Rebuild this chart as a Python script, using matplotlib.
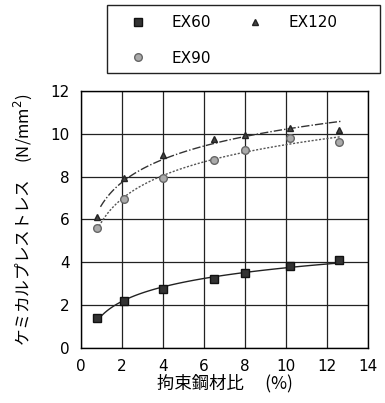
import numpy as np
import matplotlib
matplotlib.use("Agg")
import matplotlib.pyplot as plt
from matplotlib.patches import Rectangle

plt.rcParams['font.family'] = ['DejaVu Sans', 'Noto Sans CJK JP']

x = [0.8, 2.1, 4.0, 6.5, 8.0, 10.2, 12.6]
ex60 = [1.38, 2.2, 2.75, 3.2, 3.48, 3.82, 4.12]
ex120 = [6.1, 7.95, 9.0, 9.75, 9.95, 10.25, 10.2]
ex90 = [5.6, 6.95, 7.95, 8.8, 9.25, 9.8, 9.62]
xticks = [0, 2, 4, 6, 8, 10, 12, 14]
yticks = [0, 2, 4, 6, 8, 10, 12]

W, H = 385, 403
fig = plt.figure(figsize=(3.85, 4.03), dpi=100)
ax = fig.add_axes([0.2104, 0.1365, 0.7454, 0.6377])

def logfit(xs, ys, x0, x1):
    b, a = np.polyfit(np.log(xs), ys, 1)
    xx = np.linspace(x0, x1, 100)
    return xx, a + b * np.log(xx)

xx, yy = logfit(x, ex60, 0.8, 12.6)
ax.plot(xx, yy, color='#222222', lw=1.0, ls='-')
xx, yy = logfit(x, ex120, 0.95, 12.7)
ax.plot(xx, yy, color='#333333', lw=1.0, ls=(0, (6, 1.5, 1, 1.5)))
xx, yy = logfit(x, ex90, 0.8, 12.7)
ax.plot(xx, yy, color='#555555', lw=1.0, ls=(0, (1.5, 1.2)))

h60, = ax.plot(x, ex60, 's', ms=5.5, mfc='#333333', mec='#111111', ls='none', label='EX60')
h120, = ax.plot(x, ex120, '^', ms=4.5, mfc='#444444', mec='#222222', ls='none', label='EX120')
h90, = ax.plot(x, ex90, 'o', ms=5.5, mfc='#aaaaaa', mec='#666666', ls='none', label='EX90')

ax.set_xlim(0, 14)
ax.set_ylim(0, 12)
ax.set_xticks(xticks)
ax.set_yticks(yticks)
ax.grid(True, color='#222222', lw=0.9)
ax.tick_params(length=0, labelsize=11, pad=8)
for s in ax.spines.values():
    s.set_linewidth(1.0)

ax.set_xlabel('拘束鋼材比　 (%)', fontsize=12.5, family=['Noto Sans CJK JP'], labelpad=0)
ax.set_ylabel('ケミカルプレストレス　(N/mm$^2$)', fontsize=12, family=['Noto Sans CJK JP'], labelpad=12)

# legend box
fig.patches.append(Rectangle((107 / W, 1 - 73 / H), 273 / W, 68 / H,
                             transform=fig.transFigure, fill=False,
                             edgecolor='#222222', lw=1.0))
leg = fig.legend([h60, h90, h120], ['EX60', 'EX90', 'EX120'], ncol=2,
                 loc='upper left', bbox_to_anchor=(130 / W, 1 - 15 / H), frameon=False,
                 fontsize=11, handlelength=1.0, handletextpad=1.7, columnspacing=2.4,
                 borderpad=0, labelspacing=1.35, borderaxespad=0)

fig.savefig('out.png', dpi=100)
